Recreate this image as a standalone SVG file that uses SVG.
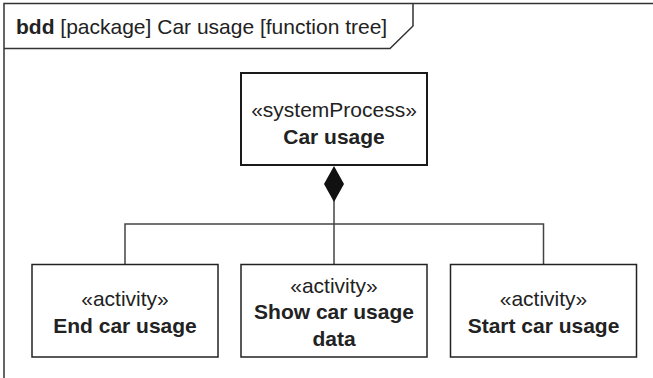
<svg xmlns="http://www.w3.org/2000/svg" width="653" height="378" viewBox="0 0 653 378">
<style>
.frame{fill:none;stroke:#333;stroke-width:1.5}
.box{fill:#fff;stroke:#222;stroke-width:1.5}
.top{fill:#fff;stroke:#1a1a1a;stroke-width:2}
.conn{fill:none;stroke:#444;stroke-width:1.5}
text{font-family:"Liberation Sans",Arial,Helvetica,sans-serif;font-size:21px;fill:#222;text-anchor:middle}
.b{font-weight:bold}
.hdr{text-anchor:start}
</style>
<rect width="653" height="378" fill="#fff"/>
<g id="frame">
<path class="frame" d="M4,378 V3.5 H653"/>
<path class="frame" d="M4,48.5 H390 L413,26 V3.5"/>
<text class="hdr" x="16" y="33.5"><tspan class="b">bdd</tspan> [package] Car usage [function tree]</text>
</g>
<g id="connectors">
<polyline class="conn" points="125,264 125,224 543.5,224 543.5,264"/>
<line class="conn" x1="334" y1="200" x2="334" y2="264"/>
<polygon points="334,166 344,184 334,202 324,184" fill="#111"/>
</g>
<g id="car-usage">
<rect class="top" x="241" y="73" width="186" height="92"/>
<text x="334" y="117">«systemProcess»</text>
<text class="b" x="334" y="144">Car usage</text>
</g>
<g id="end-car-usage">
<rect class="box" x="32" y="264.5" width="186" height="92.5"/>
<text x="125" y="306">«activity»</text>
<text class="b" x="125" y="333">End car usage</text>
</g>
<g id="show-car-usage-data">
<rect class="box" x="241" y="264.5" width="186" height="92.5"/>
<text x="334" y="292.5">«activity»</text>
<text class="b" x="334" y="319">Show car usage</text>
<text class="b" x="334" y="345.5">data</text>
</g>
<g id="start-car-usage">
<rect class="box" x="450.5" y="264.5" width="186" height="92.5"/>
<text x="543.5" y="306">«activity»</text>
<text class="b" x="543.5" y="333">Start car usage</text>
</g>
</svg>
